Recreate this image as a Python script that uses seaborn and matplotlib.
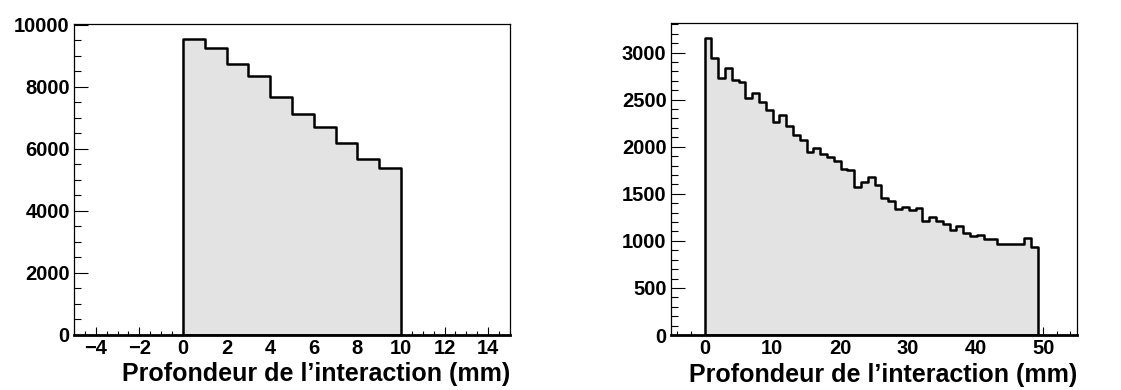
import numpy as np
import pandas as pd
import matplotlib
matplotlib.use("Agg")
import matplotlib.pyplot as plt
import seaborn as sns
from matplotlib.ticker import MultipleLocator

# left histogram: 10 bins of 1 mm
left_edges = np.arange(0, 11)
left_counts = [9550, 9250, 8740, 8340, 7680, 7120, 6700, 6190, 5680, 5370]

# right histogram: 49 bins from 0 to ~49.25 mm
right_edges = np.linspace(0, 49.25, 50)
right_counts = [3150, 2945, 2730, 2835, 2705, 2690, 2515, 2575, 2480, 2395,
                2260, 2340, 2225, 2120, 2070, 1945, 1985, 1920, 1890, 1850,
                1765, 1750, 1575, 1620, 1680, 1595, 1460, 1420, 1335, 1365,
                1330, 1350, 1210, 1250, 1210, 1180, 1120, 1160, 1080, 1055,
                1065, 1015, 1020, 965, 965, 965, 965, 1030, 940]

xlabel = "Profondeur de l\u2019interaction (mm)"

sns.set_theme(style="ticks")
plt.rcParams["font.family"] = ["Liberation Sans", "DejaVu Sans"]
plt.rcParams["font.weight"] = "bold"
plt.rcParams["axes.labelweight"] = "bold"
plt.rcParams["text.color"] = "black"
plt.rcParams["axes.labelcolor"] = "black"

fig = plt.figure(figsize=(11.21, 3.9), dpi=100)
ax1 = fig.add_axes([0.0660, 0.1423, 0.3889, 0.7960])
ax2 = fig.add_axes([0.5983, 0.1410, 0.3624, 0.7990])


def draw_hist(ax, edges, counts):
    edges = np.asarray(edges, dtype=float)
    df = pd.DataFrame({"depth": (edges[:-1] + edges[1:]) / 2,
                       "count": counts})
    sns.histplot(data=df, x="depth", weights="count", bins=edges.tolist(),
                 element="step", fill=True, color="#e3e3e3",
                 edgecolor="black", linewidth=1.8, alpha=1, ax=ax)


def style(ax, xlim, ylim, xmaj, xmin, ymaj, ymin):
    ax.set_xlim(*xlim)
    ax.set_ylim(*ylim)
    ax.xaxis.set_major_locator(MultipleLocator(xmaj))
    ax.xaxis.set_minor_locator(MultipleLocator(xmin))
    ax.yaxis.set_major_locator(MultipleLocator(ymaj))
    ax.yaxis.set_minor_locator(MultipleLocator(ymin))
    ax.tick_params(which="both", direction="in", top=False, right=False,
                   bottom=True, left=True, color="black", labelcolor="black",
                   width=0.8)
    ax.tick_params(axis="y", which="major", length=10, pad=3, labelsize=14.5)
    ax.tick_params(axis="y", which="minor", length=5)
    ax.tick_params(axis="x", which="major", length=6, pad=3, labelsize=14.5)
    ax.tick_params(axis="x", which="minor", length=3)
    for s in ax.spines.values():
        s.set_visible(True)
        s.set_color("black")
        s.set_linewidth(0.9)
    ax.spines["bottom"].set_linewidth(2)
    ax.set_ylabel("")
    ax.set_xlabel(xlabel, fontsize=18, fontweight="bold", ha="right",
                  color="black")
    ax.xaxis.set_label_coords(1.0, -0.09)


draw_hist(ax1, left_edges, left_counts)
style(ax1, (-5, 15), (0, 10030), 2, 0.5, 2000, 500)

draw_hist(ax2, right_edges, right_counts)
style(ax2, (-5, 55), (0, 3310), 10, 2, 500, 100)

fig.savefig("out.png", dpi=100)
